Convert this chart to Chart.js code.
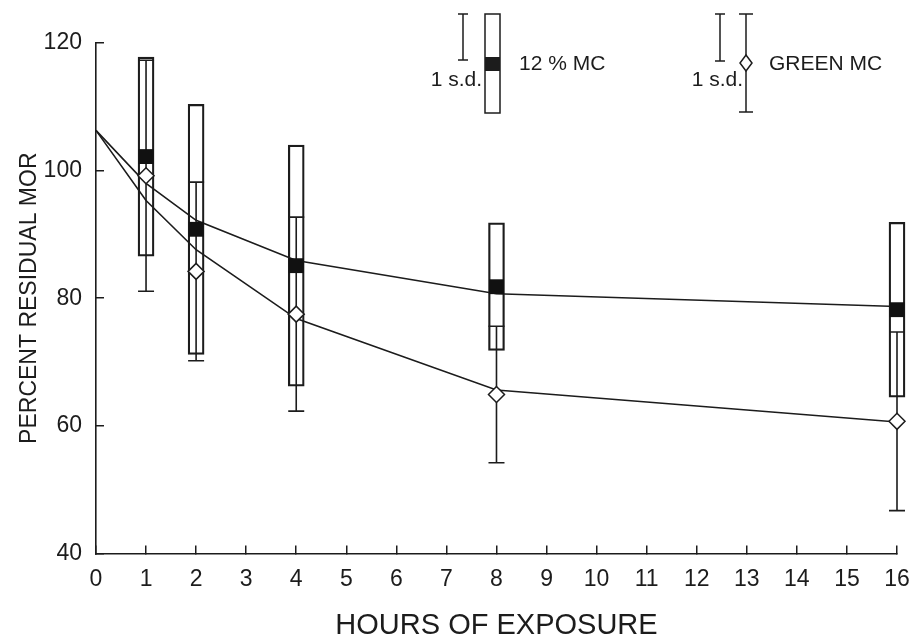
<!DOCTYPE html>
<html>
<head>
<meta charset="utf-8">
<script src="https://cdn.jsdelivr.net/npm/chart.js@4.4.1/dist/chart.umd.min.js"></script>
<style>
  html, body { margin: 0; padding: 0; background: #fff; }
  #caixa { width: 912px; height: 640px; }
</style>
</head>
<body>
<div id="caixa"><canvas id="grafico"></canvas></div>
<script>
// horas de exposicao onde foram feitos os ensaios
const horas = [1, 2, 4, 8, 16];

// 12 % MC: media e desvio padrao (caixas)
const media12 = [102.2, 90.8, 85.1, 81.8, 78.2];
const dp12 = [15.6, 19.6, 18.9, 10.0, 13.7];

// GREEN MC: media e desvio padrao (barras de erro)
const mediaVerde = [99.2, 84.2, 77.5, 64.9, 60.7];
const dpVerde = [18.1, 14.0, 15.2, 10.7, 14.0];

// curvas ajustadas
const horasAjuste = [0, 1, 2, 4, 8, 16];
const ajuste12 = [106.3, 98.0, 92.2, 85.9, 80.7, 78.7];
const ajusteVerde = [106.3, 95.3, 87.6, 76.8, 65.6, 60.6];

// marcas dos eixos
const ticksX = [0, 1, 2, 3, 4, 5, 6, 7, 8, 9, 10, 11, 12, 13, 14, 15, 16];
const ticksY = [40, 60, 80, 100, 120];

const tinta = '#1c1c1c';
const fonte = "'Liberation Sans', Arial, Helvetica, sans-serif";

// barras de erro do GREEN MC, desenhadas logo depois das caixas
const barrasErro = {
  id: 'barrasErro',
  afterDatasetDraw(chart, args) {
    if (args.index !== 0) return;
    const ctx = chart.ctx;
    const x = chart.scales.x;
    const y = chart.scales.y;
    ctx.save();
    ctx.strokeStyle = tinta;
    ctx.lineWidth = 1.6;
    for (let i = 0; i < horas.length; i++) {
      const px = x.getPixelForValue(horas[i]);
      const topo = y.getPixelForValue(mediaVerde[i] + dpVerde[i]);
      const base = y.getPixelForValue(mediaVerde[i] - dpVerde[i]);
      ctx.beginPath();
      ctx.moveTo(px, topo); ctx.lineTo(px, base);
      ctx.moveTo(px - 8, topo); ctx.lineTo(px + 8, topo);
      ctx.moveTo(px - 8, base); ctx.lineTo(px + 8, base);
      ctx.stroke();
    }
    ctx.restore();
  }
};

// legenda desenhada a mao, como no original
const legendaManual = {
  id: 'legendaManual',
  afterDraw(chart) {
    const ctx = chart.ctx;
    ctx.save();
    ctx.strokeStyle = tinta;
    ctx.fillStyle = tinta;
    ctx.lineWidth = 1.5;

    function barraSd(x, y1, y2, meia) {
      ctx.beginPath();
      ctx.moveTo(x, y1); ctx.lineTo(x, y2);
      ctx.moveTo(x - meia, y1); ctx.lineTo(x + meia, y1);
      ctx.moveTo(x - meia, y2); ctx.lineTo(x + meia, y2);
      ctx.stroke();
    }

    ctx.font = '21px ' + fonte;
    ctx.textBaseline = 'middle';

    // 12 % MC
    barraSd(463, 14, 60, 5);
    ctx.textAlign = 'right';
    ctx.fillText('1 s.d.', 482, 80);
    ctx.strokeRect(485, 14, 15, 99);
    ctx.fillRect(485, 57, 15, 14);
    ctx.textAlign = 'left';
    ctx.fillText('12 % MC', 519, 64);

    // GREEN MC
    barraSd(720, 14, 61, 5);
    ctx.textAlign = 'right';
    ctx.fillText('1 s.d.', 743, 80);
    barraSd(746, 14, 112, 7);
    ctx.beginPath();
    ctx.moveTo(746, 55); ctx.lineTo(752, 63); ctx.lineTo(746, 71); ctx.lineTo(740, 63);
    ctx.closePath();
    ctx.fillStyle = '#fff';
    ctx.fill();
    ctx.stroke();
    ctx.fillStyle = tinta;
    ctx.textAlign = 'left';
    ctx.fillText('GREEN MC', 769, 64);
    ctx.restore();
  }
};

const data = {
  datasets: [
    {
      type: 'bar',
      label: '12 % MC',
      data: horas.map((h, i) => ({ x: h, y: [media12[i] - dp12[i], media12[i] + dp12[i]] })),
      backgroundColor: 'rgba(255,255,255,0)',
      borderColor: tinta,
      borderWidth: 1.6,
      borderSkipped: false,
      barThickness: 16,
      clip: false,
      order: 4
    },
    {
      type: 'line',
      label: 'ajuste 12 % MC',
      data: horasAjuste.map((h, i) => ({ x: h, y: ajuste12[i] })),
      borderColor: tinta,
      borderWidth: 1.6,
      pointRadius: 0,
      tension: 0,
      order: 3
    },
    {
      type: 'line',
      label: 'ajuste GREEN MC',
      data: horasAjuste.map((h, i) => ({ x: h, y: ajusteVerde[i] })),
      borderColor: tinta,
      borderWidth: 1.6,
      pointRadius: 0,
      tension: 0,
      order: 3
    },
    {
      type: 'line',
      label: '12 % MC media',
      data: horas.map((h, i) => ({ x: h, y: media12[i] })),
      showLine: false,
      pointStyle: 'rect',
      pointRadius: 10.5,
      pointBackgroundColor: '#111',
      pointBorderColor: '#111',
      pointBorderWidth: 0,
      clip: false,
      order: 1
    },
    {
      type: 'line',
      label: 'GREEN MC media',
      data: horas.map((h, i) => ({ x: h, y: mediaVerde[i] })),
      showLine: false,
      pointStyle: 'rectRot',
      pointRadius: 8,
      pointBackgroundColor: '#fff',
      pointBorderColor: tinta,
      pointBorderWidth: 1.5,
      clip: false,
      order: 1
    }
  ]
};

const config = {
  type: 'line',
  data: data,
  plugins: [barrasErro, legendaManual],
  options: {
    responsive: true,
    maintainAspectRatio: false,
    animation: false,
    events: [],
    layout: { padding: { left: 16, right: 15, top: 43, bottom: 0 } },
    plugins: { legend: { display: false }, tooltip: { enabled: false } },
    scales: {
      x: {
        type: 'linear',
        min: 0,
        max: 16,
        offset: false,
        afterBuildTicks: (eixo) => { eixo.ticks = ticksX.map(v => ({ value: v })); },
        afterFit: (eixo) => { eixo.paddingLeft = 0; eixo.paddingRight = 0; },
        grid: { offset: false, drawOnChartArea: false, tickLength: -8, color: tinta, lineWidth: 1.5 },
        border: { color: tinta, width: 1.6 },
        ticks: { color: tinta, font: { family: fonte, size: 23 }, padding: 20, maxRotation: 0, autoSkip: false },
        title: {
          display: true,
          text: 'HOURS OF EXPOSURE',
          color: tinta,
          font: { family: fonte, size: 29, lineHeight: 1 },
          padding: { top: -2, bottom: 0 }
        }
      },
      y: {
        type: 'linear',
        min: 40,
        max: 120,
        afterBuildTicks: (eixo) => { eixo.ticks = ticksY.map(v => ({ value: v })); },
        grid: { drawOnChartArea: false, tickLength: -8, color: tinta, lineWidth: 1.5 },
        border: { color: tinta, width: 1.6 },
        ticks: { color: tinta, font: { family: fonte, size: 23 }, padding: 22 },
        title: {
          display: true,
          text: 'PERCENT RESIDUAL MOR',
          color: tinta,
          font: { family: fonte, size: 23 },
          padding: { top: 0, bottom: -22 }
        }
      }
    }
  }
};

var meuGrafico = new Chart(document.getElementById('grafico'), config);
</script>
</body>
</html>
